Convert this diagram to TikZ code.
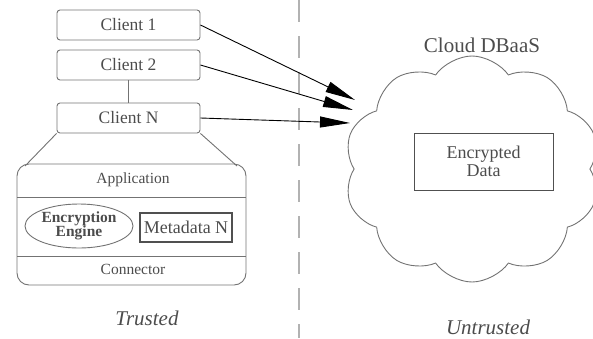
\documentclass[tikz,border=0pt]{standalone}
\usepackage{fontspec}
\setmainfont{Liberation Serif}
\usetikzlibrary{shapes.geometric,shapes.symbols,arrows.meta}
\definecolor{ln}{gray}{0.45}
\definecolor{tx}{gray}{0.3}
\begin{document}
\begin{tikzpicture}[x=1pt,y=-1pt,
  client/.style={draw=ln,line width=0.9pt,rounded corners=3pt,minimum width=143pt,minimum height=30pt,inner sep=0pt,font=\rmfamily\fontsize{17.5}{18}\selectfont,text=tx},
  lbl/.style={inner sep=0pt,text=tx},
  arr/.style={draw=black,line width=0.9pt,-{Triangle[length=30pt,width=11pt]}},
  thin/.style={draw=ln,line width=0.9pt}]
\useasboundingbox (0,0) rectangle (593,338);
% dashed separator
\coordinate (dtop) at (299,0);
\coordinate (dbot) at (299,338);
\draw[draw=gray!60,line width=1.6pt,dash pattern=on 22pt off 14pt] (dtop) -- (dbot);
% clients
\node[client] (c1) at (128.5,25) {Client 1};
\node[client] (c2) at (128.5,65) {Client 2};
\node[client] (cn) at (128.5,118) {Client N};
\draw[thin] (c2) -- (cn);
% application box
\node[draw=ln,line width=0.9pt,rounded corners=12pt,minimum width=229pt,minimum height=121pt,inner sep=0pt] (box) at (131.5,224.5) {};
\coordinate (tl) at (25,166);
\coordinate (tr) at (237,166);
\draw[thin] (cn.south west) -- (tl);
\draw[thin] (cn.south east) -- (tr);
\coordinate (d1l) at (17,197);
\coordinate (d1r) at (246,197);
\coordinate (d2l) at (17,256);
\coordinate (d2r) at (246,256);
\draw[thin] (d1l) -- (d1r);
\draw[thin] (d2l) -- (d2r);
\node[lbl,font=\rmfamily\fontsize{15.5}{16}\selectfont] (appl) at (133,180) {Application};
\node[lbl,font=\rmfamily\fontsize{15.5}{16}\selectfont] (conn) at (133,269) {Connector};
\node[ellipse,draw=ln,line width=0.9pt,minimum width=108pt,minimum height=44pt,inner sep=0pt,align=center,text=tx,font=\rmfamily\bfseries\fontsize{15.5}{14.5}\selectfont] (enc) at (79,226) {Encryption\\Engine};
\node[draw=ln!70!black,line width=1.1pt,minimum width=92pt,minimum height=29pt,inner sep=0pt,text=tx,font=\rmfamily\fontsize{18}{18}\selectfont] (meta) at (186,227.5) {Metadata N};
% cloud
\node[cloud,draw=ln,line width=0.9pt,cloud puffs=10,cloud puff arc=110,aspect=1.15,minimum width=256pt,minimum height=226pt,inner sep=0pt] (cloud) at (472,169) {};
\node[lbl,font=\rmfamily\fontsize{21}{22}\selectfont] (cl) at (482,45) {Cloud DBaaS};
\node[draw=ln!70!black,line width=1pt,minimum width=139pt,minimum height=57pt,inner sep=0pt,align=center,text=tx,font=\rmfamily\fontsize{18}{18}\selectfont] (data) at (483.5,161.5) {Encrypted\\Data};
% arrows
\coordinate (t1) at (355,100);
\coordinate (t2) at (353,110);
\coordinate (t3) at (350,123);
\draw[arr] (c1.east) -- (t1);
\draw[arr] (c2.east) -- (t2);
\draw[arr] (cn.east) -- (t3);
% labels
\node[lbl,font=\rmfamily\itshape\fontsize{21}{22}\selectfont] (tru) at (147,318) {Trusted};
\node[lbl,font=\rmfamily\itshape\fontsize{21}{22}\selectfont] (untru) at (488,327) {Untrusted};
\end{tikzpicture}
\end{document}
